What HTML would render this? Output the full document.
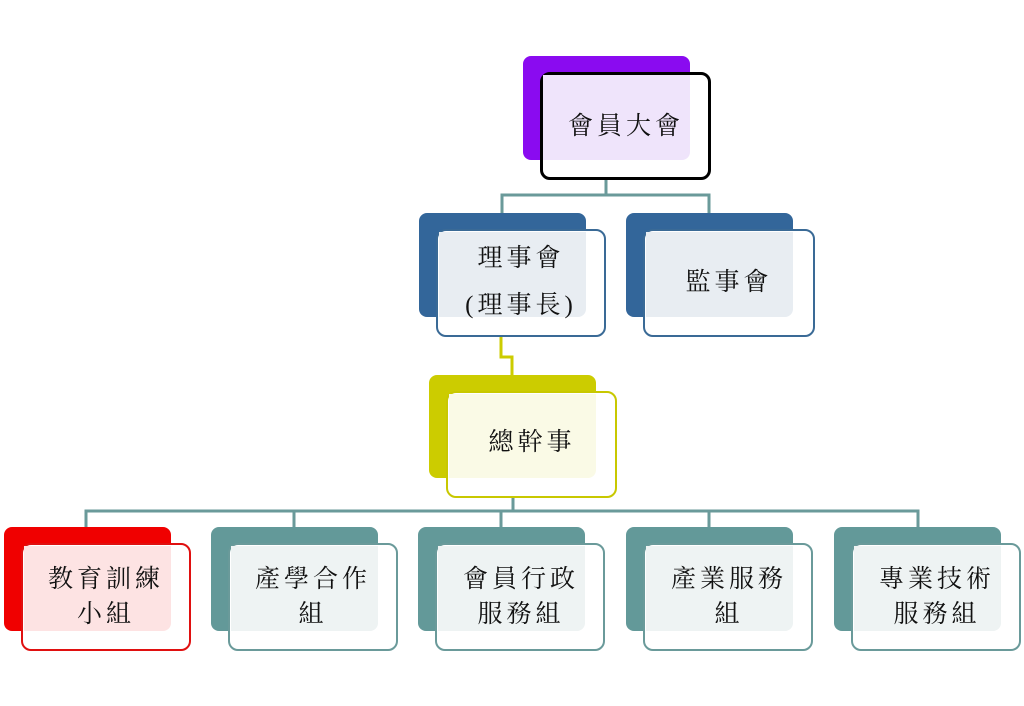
<!DOCTYPE html>
<html><head><meta charset="utf-8"><style>
body{margin:0;width:1024px;height:706px;background:#fff;position:relative;overflow:hidden}
.a{position:absolute;box-sizing:border-box}
.t{position:absolute;font-family:"Liberation Serif","Noto Serif CJK SC",serif;font-size:25px;color:#111;text-align:center;line-height:35px;letter-spacing:4px;white-space:nowrap}
</style></head><body>
<svg class="a" style="left:0;top:0" width="1024" height="706">
<g fill="none" stroke="#6a9a9a" stroke-width="3">
<path d="M606 180V195M502 213V195H709V213"/>
<path d="M513 498V511M86 527V511H918V527M294 511V527M501 511V527M709 511V527"/>
</g>
<path d="M501 337V357H512V375" fill="none" stroke="#cccc00" stroke-width="3"/>
</svg>
<div id="c"></div>
<script>
var B=[
[523,56,690,160,540,72,711,180,'#8a0bf0','#000','#efe4fb',3,['會員大會'],626,126,35],
[419,213,586,317,436,229,606,337,'#33669a','#3a6a96','#e8edf2',2.5,['理事會','(理事長)'],521,282,47],
[626,213,793,317,643,229,815,337,'#33669a','#3a6a96','#e8edf2',2.5,['監事會'],729,282,35],
[429,375,596,478,446,391,617,498,'#cccc00','#c8c800','#fafae6',2.5,['總幹事'],532,442,35],
[4,527,171,631,21,543,191,651,'#f00000','#e01010','#fde3e3',2.5,['教育訓練','小組'],106,597,35],
[211,527,378,631,228,543,398,651,'#639999','#6a9a9a','#eef3f3',2.5,['產學合作','組'],313,597,35],
[418,527,585,631,435,543,605,651,'#639999','#6a9a9a','#eef3f3',2.5,['會員行政','服務組'],521,597,35],
[626,527,793,631,643,543,813,651,'#639999','#6a9a9a','#eef3f3',2.5,['產業服務','組'],729,597,35],
[834,527,1001,631,851,543,1021,651,'#639999','#6a9a9a','#eef3f3',2.5,['專業技術','服務組'],937,597,35]];
var h='';
B.forEach(function(b){
h+='<div class="a" style="left:'+b[0]+'px;top:'+b[1]+'px;width:'+(b[2]-b[0])+'px;height:'+(b[3]-b[1])+'px;background:'+b[8]+';border-radius:8px"></div>';
h+='<div class="a" style="left:'+b[4]+'px;top:'+b[5]+'px;width:'+(b[6]-b[4])+'px;height:'+(b[7]-b[5])+'px;background:#fff;border:'+b[11]+'px solid '+b[9]+';border-radius:10px"></div>';
h+='<div class="a" style="left:'+(b[4]+b[11])+'px;top:'+(b[5]+b[11])+'px;width:'+(b[2]-b[4]-b[11])+'px;height:'+(b[3]-b[5]-b[11])+'px;background:'+b[10]+';border-radius:0 0 8px 0"></div>';
var n=b[12].length,lh=b[15];
h+='<div class="t" style="left:'+(b[13]-100)+'px;width:200px;line-height:'+lh+'px;top:'+(b[14]-n*lh/2)+'px">'+b[12].join('<br>')+'</div>';
});
document.getElementById('c').innerHTML=h;
</script>
</body></html>
